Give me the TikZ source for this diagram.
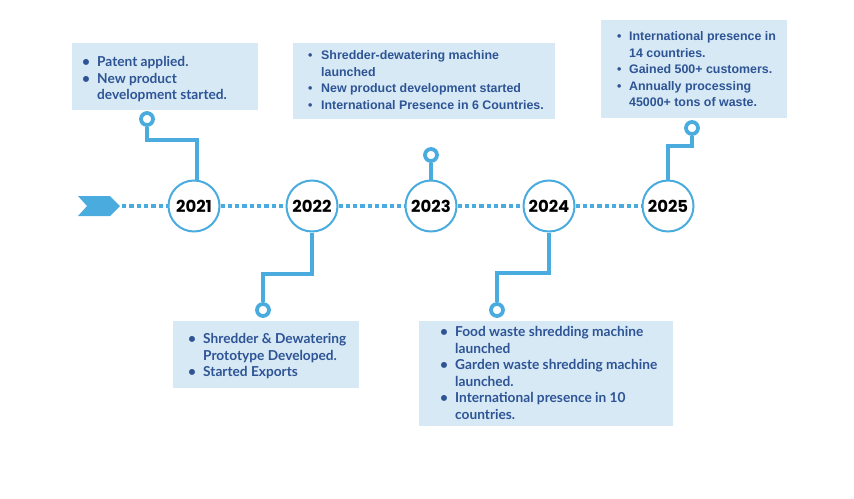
\documentclass[tikz,border=0pt]{standalone}
\usepackage{fontspec}
\setmainfont{Lato}
\newfontfamily\yearfont{Poppins}
\newfontfamily\arialfont{Liberation Sans}
\usetikzlibrary{calc}
\definecolor{tlblue}{RGB}{74,172,222}
\definecolor{boxblue}{RGB}{214,233,244}
\definecolor{txtblue}{RGB}{46,84,150}
\newcommand{\bul}[1]{\makebox[#1][l]{\textbullet}}
\begin{document}
\begin{tikzpicture}[x=1pt,y=-1pt,
  yearc/.style={circle, draw=tlblue, line width=2pt, fill=white, minimum size=51pt, inner sep=0pt,
    font=\yearfont\bfseries\fontsize{16.5}{16.5}\selectfont},
  ebox/.style={fill=boxblue, inner sep=0pt, anchor=north west},
  etext/.style={anchor=base west, inner sep=0pt, text=txtblue},
  lato/.style={font=\bfseries\fontsize{13.7}{16.5}\selectfont},
  arial/.style={font=\arialfont\bfseries\fontsize{12.4}{16.6}\selectfont},
  conn/.style={draw=tlblue, line width=4pt},
  pin/.style={circle, draw=tlblue, line width=3.8pt, fill=white, minimum size=12pt, inner sep=0pt},
  dots/.style={draw=tlblue, line width=4.3pt, dash pattern=on 4.3pt off 3pt}]
\useasboundingbox (0,0) rectangle (854,498);

% chevron
\fill[tlblue] (78,196) -- (110,196) -- (120,206) -- (110,216) -- (78,216) -- (87,206) -- cycle;
\coordinate (arrtip) at (122,206);

% year circles
\node[yearc] (y21) at (194,206) {2021};
\node[yearc] (y22) at (312,206) {2022};
\node[yearc] (y23) at (431,206) {2023};
\node[yearc] (y24) at (549,206) {2024};
\node[yearc] (y25) at (668,206) {2025};

\draw[dots] (arrtip) -- (y21.west);
\draw[dots] (y21.east) -- (y22.west);
\draw[dots] (y22.east) -- (y23.west);
\draw[dots] (y23.east) -- (y24.west);
\draw[dots] (y24.east) -- (y25.west);

% boxes
\node[ebox, minimum width=186pt, minimum height=67pt] (b21) at (72,43) {};
\node[ebox, minimum width=262pt, minimum height=76pt] (b23) at (293,43) {};
\node[ebox, minimum width=186pt, minimum height=98pt] (b25) at (601,20) {};
\node[ebox, minimum width=186pt, minimum height=67pt] (b22) at (173,321) {};
\node[ebox, minimum width=254pt, minimum height=105pt] (b24) at (419,321) {};

\node[etext, lato] (t21) at (82,66.5) {\begin{tabular}[t]{@{}l@{}l@{}}
\bul{15pt} & Patent applied.\\
\bul{15pt} & New product\\
 & development started.\end{tabular}};
\node[etext, arial] (t23) at (308,59.5) {\begin{tabular}[t]{@{}l@{}l@{}}
\bul{13pt} & Shredder-dewatering machine\\
 & launched\\
\bul{13pt} & New product development started\\
\bul{13pt} & International Presence in 6 Countries.\end{tabular}};
\node[etext, arial] (t25) at (617,40.5) {\begin{tabular}[t]{@{}l@{}l@{}}
\bul{12pt} & International presence in\\
 & 14 countries.\\
\bul{12pt} & Gained 500+ customers.\\
\bul{12pt} & Annually processing\\
 & 45000+ tons of waste.\end{tabular}};
\node[etext, lato] (t22) at (188,343.5) {\begin{tabular}[t]{@{}l@{}l@{}}
\bul{15pt} & Shredder \& Dewatering\\
 & Prototype Developed.\\
\bul{15pt} & Started Exports\end{tabular}};
\node[etext, lato] (t24) at (440,336.5) {\begin{tabular}[t]{@{}l@{}l@{}}
\bul{15pt} & Food waste shredding machine\\
 & launched\\
\bul{15pt} & Garden waste shredding machine\\
 & launched.\\
\bul{15pt} & International presence in 10\\
 & countries.\end{tabular}};

% pins
\node[pin] (p21) at (147,119) {};
\node[pin] (p23) at (431,155) {};
\node[pin] (p25) at (692,128) {};
\node[pin] (p22) at (263,310) {};
\node[pin] (p24) at (497,310) {};

% connectors
\draw[conn] (p21.south) |- ($(y21.north)+(3,-40)$) -- ($(y21.north)+(3,0)$);
\draw[conn] (p23.south) -- (y23.north);
\draw[conn] (p25.south) |- ($(y25.north)+(0,-34)$) -- (y25.north);
\draw[conn] (y22.south) -- ++(0,41) -| (p22.north);
\draw[conn] (y24.south) -- ++(0,40) -| (p24.north);
\end{tikzpicture}
\end{document}
